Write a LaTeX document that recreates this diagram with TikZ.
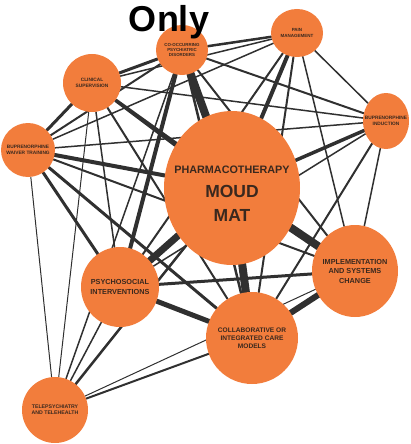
\documentclass[tikz,border=0pt]{standalone}
\usepackage{fontspec}
\setmainfont{Liberation Sans}
\usepackage{tikz}
\usetikzlibrary{shapes.geometric, backgrounds}
\definecolor{bubblefill}{RGB}{242,125,60}
\definecolor{bubbletext}{RGB}{58,40,30}
\definecolor{linkgray}{RGB}{48,48,48}
\tikzset{
  bubble/.style={ellipse, fill=bubblefill, inner sep=0pt},
  tag/.style={align=center, text=bubbletext, inner sep=0pt,
              font=\bfseries\fontsize{4.8}{5.6}\selectfont},
  midtag/.style={tag, font=\bfseries\fontsize{7.3}{9.5}\selectfont},
  link/.style={draw=linkgray, line cap=round},
}
\begin{document}
\begin{tikzpicture}[x=1pt, y=-1pt]
  \useasboundingbox (0,0) rectangle (410,444);

  % Topic bubbles
  \node [bubble, minimum width=136pt, minimum height=154pt] (pharm) at (232,188) {};
  \node [bubble, minimum width=52pt, minimum height=50pt] (cooc) at (182,50) {};
  \node [bubble, minimum width=52pt, minimum height=48pt] (pain) at (297,33) {};
  \node [bubble, minimum width=58pt, minimum height=58pt] (clin) at (92,83) {};
  \node [bubble, minimum width=54pt, minimum height=54pt] (bwt) at (28,150) {};
  \node [bubble, minimum width=46pt, minimum height=56pt] (bind) at (386,121) {};
  \node [bubble, minimum width=78pt, minimum height=80pt] (psy) at (120,287) {};
  \node [bubble, minimum width=86pt, minimum height=92pt] (impl) at (355,271) {};
  \node [bubble, minimum width=92pt, minimum height=92pt] (collab) at (252,338) {};
  \node [bubble, minimum width=66pt, minimum height=66pt] (tele) at (55,410) {};

  % Bubble texts
  \node [tag, font=\bfseries\fontsize{17.5}{24}\selectfont, yshift=-6pt] (pharmtext) at (pharm)
    {{\fontsize{10.8}{13}\selectfont PHARMACOTHERAPY}\\MOUD\\MAT};
  \node [tag, font=\bfseries\fontsize{4.4}{5.2}\selectfont] (cooctext) at (cooc)
    {CO-OCCURRING\\PSYCHIATRIC\\DISORDERS};
  \node [tag, font=\bfseries\fontsize{4.5}{5.4}\selectfont] (paintext) at (pain) {PAIN\\MANAGEMENT};
  \node [tag] (clintext) at (clin) {CLINICAL\\SUPERVISION};
  \node [tag] (bwttext) at (bwt) {BUPRENORPHINE\\WAIVER TRAINING};
  \node [tag] (bindtext) at (bind) {BUPRENORPHINE\\INDUCTION};
  \node [midtag] (psytext) at (psy) {PSYCHOSOCIAL\\INTERVENTIONS};
  \node [midtag] (impltext) at (impl) {IMPLEMENTATION\\AND SYSTEMS\\CHANGE};
  \node [midtag, font=\bfseries\fontsize{6.6}{8.2}\selectfont] (collabtext) at (collab)
    {COLLABORATIVE OR\\INTEGRATED CARE\\MODELS};
  \node [tag, font=\bfseries\fontsize{5.2}{6}\selectfont] (teletext) at (tele)
    {TELEPSYCHIATRY\\AND TELEHEALTH};

  % Title
  \node [font=\bfseries\fontsize{36}{36}\selectfont] (title) at (169,22) {Only};

  % Links, width = strength
  \begin{scope}[on background layer]
    \foreach \a/\b/\w in {pharm/cooc/8, pharm/pain/4, pharm/clin/3, pharm/bwt/4,
        pharm/bind/3.5, pharm/psy/7, pharm/impl/8, pharm/collab/8, pharm/tele/2.5,
        cooc/pain/2.5, cooc/clin/3, cooc/bwt/2, cooc/bind/2, cooc/psy/4,
        cooc/impl/2, cooc/collab/2.5, cooc/tele/1.5,
        pain/clin/1.5, pain/bwt/1.5, pain/bind/1.5, pain/psy/2, pain/impl/1.5,
        pain/collab/2,
        clin/bwt/3, clin/bind/1.5, clin/psy/1.5, clin/impl/3, clin/collab/2,
        clin/tele/1,
        bwt/bind/1.5, bwt/psy/3, bwt/impl/2, bwt/collab/3, bwt/tele/1,
        bind/psy/1.5, bind/impl/1.5, bind/collab/2,
        psy/impl/3, psy/collab/5, psy/tele/1.5,
        impl/collab/6, impl/tele/1, collab/tele/2}
      \draw [link, line width=\w pt] (\a) -- (\b);
  \end{scope}
\end{tikzpicture}
\end{document}
